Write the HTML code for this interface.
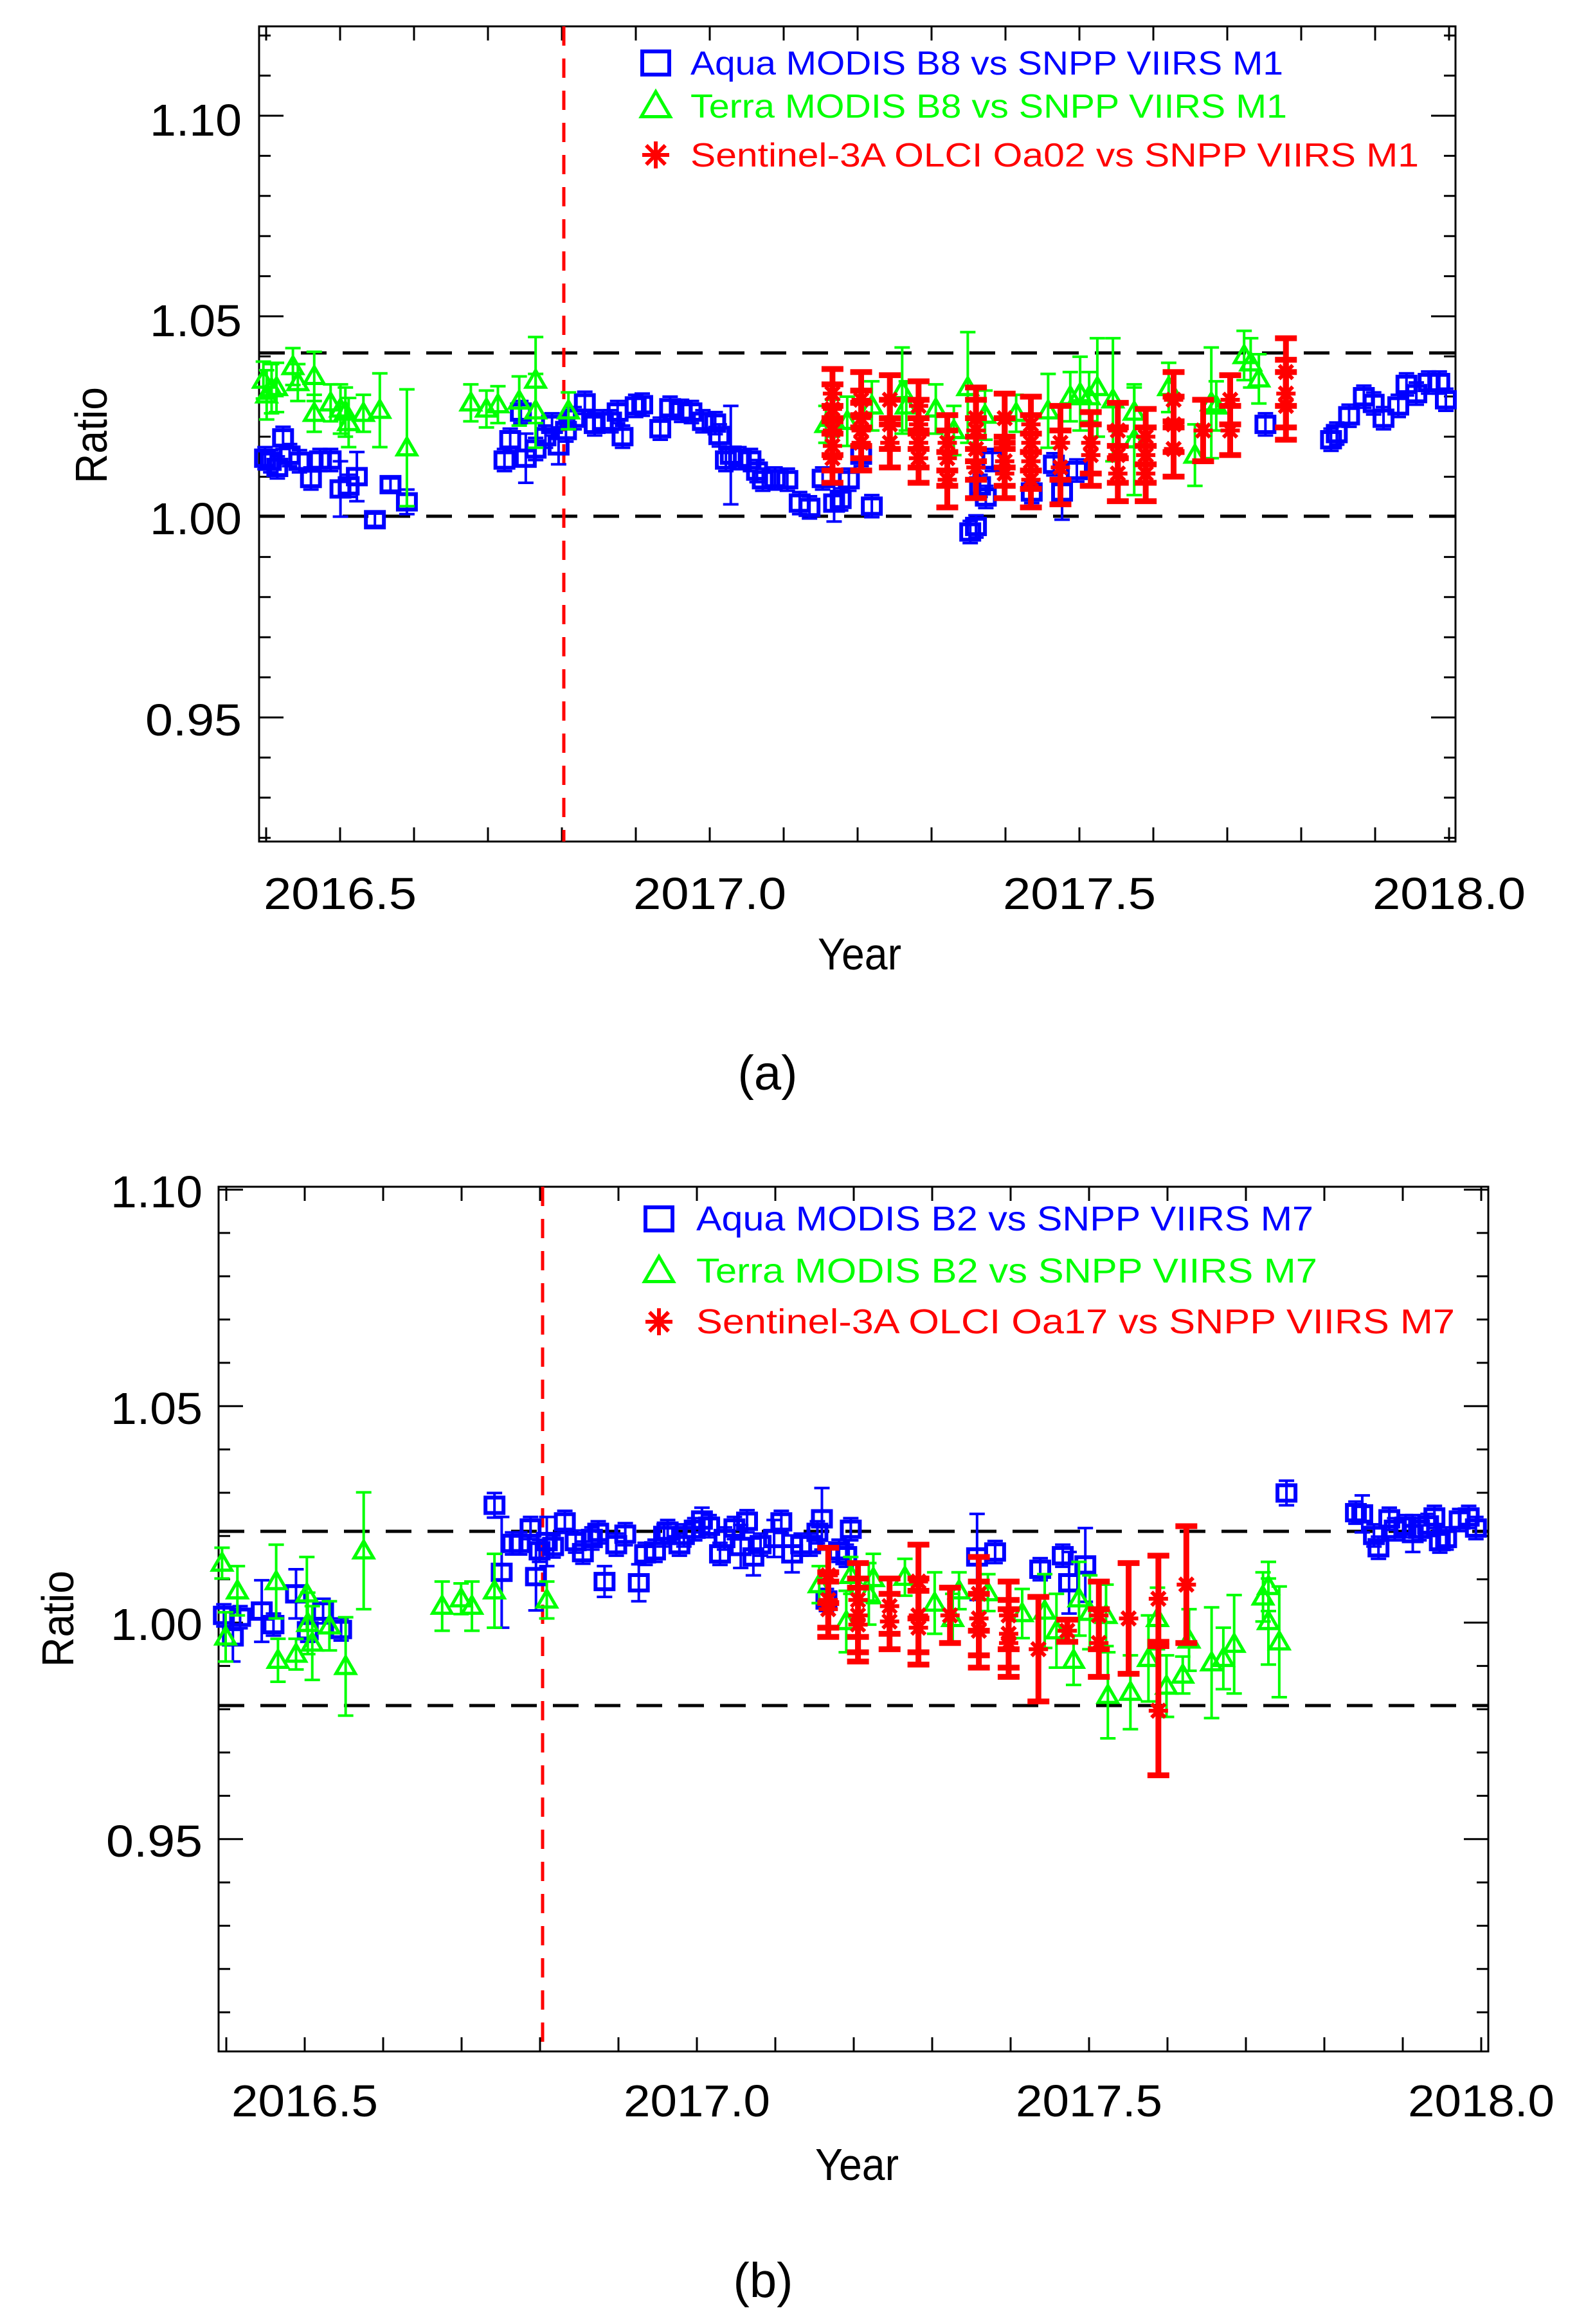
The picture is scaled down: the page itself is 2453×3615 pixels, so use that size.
<!DOCTYPE html>
<html><head><meta charset="utf-8"><style>
html,body{margin:0;padding:0;background:#fff;}
svg{display:block;}
text{font-family:"Liberation Sans",sans-serif;}
</style></head><body>
<svg id="s" xmlns="http://www.w3.org/2000/svg" width="2453" height="3615" viewBox="0 0 2453 3615">
<rect width="2453" height="3615" fill="#fff"/>
<g id="p1"></g><g id="p2"></g>
<g font-size="70" fill="#000" text-anchor="end">
<text x="376" y="211" textLength="143" lengthAdjust="spacingAndGlyphs">1.10</text>
<text x="376" y="523" textLength="143" lengthAdjust="spacingAndGlyphs">1.05</text>
<text x="376" y="831" textLength="143" lengthAdjust="spacingAndGlyphs">1.00</text>
<text x="376" y="1144" textLength="150" lengthAdjust="spacingAndGlyphs">0.95</text>
</g>
<g font-size="70" fill="#000" text-anchor="middle">
<text x="529" y="1414" textLength="238" lengthAdjust="spacingAndGlyphs">2016.5</text>
<text x="1104" y="1414" textLength="238" lengthAdjust="spacingAndGlyphs">2017.0</text>
<text x="1679" y="1414" textLength="238" lengthAdjust="spacingAndGlyphs">2017.5</text>
<text x="2254" y="1414" textLength="238" lengthAdjust="spacingAndGlyphs">2018.0</text>
<text x="1337" y="1508" textLength="130" lengthAdjust="spacingAndGlyphs">Year</text>
<text transform="translate(166,677) rotate(-90)" textLength="150" lengthAdjust="spacingAndGlyphs">Ratio</text>
<text x="1194" y="1695" font-family="Liberation Serif,serif" font-size="76">(a)</text>
</g>
<g font-size="52">
<text x="1074" y="116" fill="#0000ff" textLength="922" lengthAdjust="spacingAndGlyphs">Aqua MODIS B8 vs SNPP VIIRS M1</text>
<text x="1074" y="183" fill="#00ff00" textLength="928" lengthAdjust="spacingAndGlyphs">Terra MODIS B8 vs SNPP VIIRS M1</text>
<text x="1074" y="259" fill="#ff0000" textLength="1133" lengthAdjust="spacingAndGlyphs">Sentinel-3A OLCI Oa02 vs SNPP VIIRS M1</text>
</g>
<g font-size="70" fill="#000" text-anchor="end">
<text x="315" y="1878" textLength="143" lengthAdjust="spacingAndGlyphs">1.10</text>
<text x="315" y="2215" textLength="143" lengthAdjust="spacingAndGlyphs">1.05</text>
<text x="315" y="2551" textLength="143" lengthAdjust="spacingAndGlyphs">1.00</text>
<text x="315" y="2888" textLength="150" lengthAdjust="spacingAndGlyphs">0.95</text>
</g>
<g font-size="70" fill="#000" text-anchor="middle">
<text x="474" y="3292" textLength="228" lengthAdjust="spacingAndGlyphs">2016.5</text>
<text x="1084" y="3292" textLength="228" lengthAdjust="spacingAndGlyphs">2017.0</text>
<text x="1694" y="3292" textLength="228" lengthAdjust="spacingAndGlyphs">2017.5</text>
<text x="2304" y="3292" textLength="228" lengthAdjust="spacingAndGlyphs">2018.0</text>
<text x="1333" y="3391" textLength="130" lengthAdjust="spacingAndGlyphs">Year</text>
<text transform="translate(114,2518) rotate(-90)" textLength="150" lengthAdjust="spacingAndGlyphs">Ratio</text>
<text x="1187" y="3573" font-family="Liberation Serif,serif" font-size="76">(b)</text>
</g>
<g font-size="54">
<text x="1083" y="1914" fill="#0000ff" textLength="960" lengthAdjust="spacingAndGlyphs">Aqua MODIS B2 vs SNPP VIIRS M7</text>
<text x="1083" y="1995" fill="#00ff00" textLength="966" lengthAdjust="spacingAndGlyphs">Terra MODIS B2 vs SNPP VIIRS M7</text>
<text x="1083" y="2074" fill="#ff0000" textLength="1180" lengthAdjust="spacingAndGlyphs">Sentinel-3A OLCI Oa17 vs SNPP VIIRS M7</text>
</g>
</svg>
<script>
var NS="http://www.w3.org/2000/svg";
function el(g,t,a){var e=document.createElementNS(NS,t);for(var k in a)e.setAttribute(k,a[k]);g.appendChild(e);return e;}
function line(g,x1,y1,x2,y2,c,w,d){var a={x1:x1,y1:y1,x2:x2,y2:y2,stroke:c,"stroke-width":w};if(d)a["stroke-dasharray"]=d;el(g,"line",a);}
function sq(g,x,y,c,s){s=s||1;el(g,"rect",{x:x-14*s,y:y-12*s,width:28*s,height:24*s,fill:"none",stroke:c,"stroke-width":6});}
function tri(g,x,y,c,s){s=s||1;el(g,"polygon",{points:(x-15*s)+","+(y+11*s)+" "+(x+15*s)+","+(y+11*s)+" "+x+","+(y-15*s),fill:"none",stroke:c,"stroke-width":5});}
function star(g,x,y,c,s){s=s||1;for(var i=0;i<4;i++){var a=i*Math.PI/4;line(g,x-15*s*Math.cos(a),y-15*s*Math.sin(a),x+15*s*Math.cos(a),y+15*s*Math.sin(a),c,6);}}
function err(g,x,y,e,c,w,cw){line(g,x,y-e,x,y+e,c,w);line(g,x-cw,y-e,x+cw,y-e,c,w);line(g,x-cw,y+e,x+cw,y+e,c,w);}
function axes(g,L,R,T,B,yv,yStep,yMin,yMax,x05,pxYear){
 el(g,"rect",{x:L,y:T,width:R-L,height:B-T,fill:"none",stroke:"#000","stroke-width":3});
 for(var v=Math.ceil(yMin*100);v<=Math.floor(yMax*100);v++){var y=yv(v/100);var maj=(v%5==0);var l=maj?38:18;
  line(g,L,y,L+l,y,"#000",3);line(g,R,y,R-l,y,"#000",3);}
 for(var k=-1;k<=16;k++){var x=x05+k*pxYear/10;if(x<L||x>R)continue;line(g,x,B,x,B-22,"#000",3);line(g,x,T,x,T+22,"#000",3);}
}
(function(){
var g=document.getElementById("p1");
var L=403,R=2264,T=41,B=1309;
function yv(r){return 804-(r-1.0)*6240;}
axes(g,L,R,T,B,yv,0.01,0.919,1.123,529,1150);
line(g,L,549,R,549,"#000",5,"40,25");line(g,L,803,R,803,"#000",5,"40,25");
line(g,877,T,877,B,"#ff0000",5,"30,20");
function X(z){return 300+z/0.784;} function Y(z){return z/1.0453;}
var B1=[[88,745],[95,750],[103,760],[110,712],[118,740],[130,750],[144,778],[155,748],[168,748],[180,795,45],[190,790],[200,775,40],[222,845,10],[241,788,10],[261,816,20],[380,748],[387,715],[400,670],[406,745,40],[418,730],[430,710],[438,690],[446,725,30],[455,700],[465,680],[478,655],[490,690],[500,685],[510,685],[518,670],[524,710],[540,660],[548,658],[570,697],[582,663],[596,668],[608,670],[622,685],[637,688],[642,708],[650,748],[656,740,80],[666,745],[680,748],[688,766],[695,780],[710,778],[725,780],[740,818],[752,825],[768,778],[782,818,30],[790,812],[800,780],[815,740],[828,823],[948,865],[955,856],[960,790],[967,808],[975,748],[1023,800],[1050,755],[1060,800,45],[1078,765],[1308,690],[1388,715],[1395,705],[1410,676],[1428,645],[1440,656],[1452,680],[1470,660],[1480,625],[1492,640],[1507,622],[1520,622],[1528,650]];
var G1=[[86,618,30],[90,642,40],[96,632,40],[102,630,40],[122,596,30],[128,622,30],[148,612,40],[148,672,30],[168,655,30],[180,665,40],[186,670,40],[190,687,40],[208,672,30],[228,667,60],[261,728,95],[339,655,30],[358,665,30],[372,658,30],[398,652,40],[418,618,70],[418,668,60],[458,668,30],[772,690,30],[780,680,30],[798,685,40],[828,660,40],[865,635,70],[870,660,40],[906,665,40],[928,700,40],[945,630,90],[966,675,40],[1004,672,30],[1043,668,60],[1070,645,40],[1082,640,60],[1093,645,40],[1103,630,80],[1122,650,100],[1148,715,90],[1148,670,40],[1190,630,40],[1222,740,50],[1242,655,90],[1248,660,40],[1282,578,40],[1290,590,40],[1300,616,40]];
var R1=[[780,[640,665,700,725,745],40],[815,[650,680,700,720],45],[850,[650,690,720],40],[885,[660,690,720,745],40],[920,[720,745,780],45],[955,[680,700,730,760],50],[990,[680,720,750,770],40],[1022,[690,720,750,780],45],[1058,[720,760],60],[1095,[720,740],50],[1128,[700,740,770],45],[1162,[710,740,770],45],[1196,[650,690,730],45],[1232,[700],50],[1265,[650,700],40],[1333,[605,640,660],55]];
B1.forEach(function(p){var x=X(p[0]),y=Y(p[1]);err(g,x,y,(p[2]||18)/1.0453,"#0000ff",4,12);sq(g,x,y,"#0000ff");});
G1.forEach(function(p){var x=X(p[0]),y=Y(p[1]);err(g,x,y,p[2]/1.0453,"#00ff00",4,12);tri(g,x,y,"#00ff00");});
R1.forEach(function(c){var x=X(c[0]);c[1].forEach(function(yz){var y=Y(yz);err(g,x,y,c[2]/1.0453,"#ff0000",9,17);star(g,x,y,"#ff0000");});});
sq(g,1020,98,"#0000ff",1.5);tri(g,1020,165,"#00ff00",1.5);star(g,1020,241,"#ff0000",1.4);
})();
(function(){
var g=document.getElementById("p2");
var L=340,R=2315,T=1846,B=3191;
function yv(r){return 2524-(r-1.0)*6735;}
axes(g,L,R,T,B,yv,0.01,0.902,1.1007,474,1220);
line(g,L,2382,R,2382,"#000",5,"40,25");line(g,L,2653,R,2653,"#000",5,"40,25");
line(g,844,T,844,B,"#ff0000",5,"30,20");
function X(z){return 250+z/0.7127;} function Y(z){return 1800+z/1.0453;}
var B2=[[70,745],[80,780,40],[88,748],[112,738,50],[125,760],[150,710,40],[163,770],[180,738,20],[200,768],[370,566,20],[378,675,90],[390,628],[398,628],[410,603],[416,682,55],[420,640],[428,625,40],[435,633],[448,593],[460,625],[468,643],[478,620],[485,610],[492,690,25],[505,630],[515,613],[530,692,30],[537,645],[548,640],[558,615],[562,608],[575,630],[580,615],[592,605],[600,590,20],[608,600],[620,645],[625,620],[636,603],[643,633,35],[650,592],[657,650,30],[665,630],[680,620,30],[688,593],[700,645,30],[710,630],[720,630],[728,610],[733,588,50],[738,720],[752,640],[760,648],[765,605],[905,650,70],[925,642],[975,670],[1000,648],[1007,692,50],[1025,663,60],[1248,546,20],[1325,578],[1332,580,30],[1345,615],[1350,635],[1362,588],[1368,605],[1380,600],[1388,612,30],[1395,605],[1405,598],[1412,585],[1418,625],[1425,620],[1440,590],[1450,585],[1458,603]];
var G2=[[68,660,25],[72,780,40],[85,705,40],[128,690,60],[130,818,35],[150,808,25],[162,710,60],[163,758,50],[168,790,60],[187,762,40],[205,828,80],[225,640,95],[312,730,40],[333,718,25],[345,730,40],[370,705,60],[428,720,30],[730,695,30],[760,755,50],[765,680,30],[785,710,50],[790,685,40],[825,683,30],[858,725,50],[878,750,40],[885,705,30],[917,708,30],[955,742,40],[980,738,60],[993,770,60],[1012,818,40],[1018,718,60],[1030,740,60],[1050,875,70],[1048,745,50],[1075,870,60],[1095,815,70],[1105,750,50],[1115,860,50],[1133,842,30],[1140,785,50],[1165,822,90],[1178,815,50],[1190,792,80],[1222,715,40],[1228,698,40],[1228,755,70],[1240,788,90]];
var R2=[[740,[680,720,735],45],[773,[720,745,760],60],[808,[730,755],45],[840,[690,745,765],60],[875,[745],45],[907,[710,750,770],60],[940,[745,775,790],55],[973,[800],85],[1005,[770],18],[1040,[745,790],55],[1073,[750],90],[1106,[718],70],[1106,[900],105],[1137,[695],95]];
B2.forEach(function(p){var x=X(p[0]),y=Y(p[1]);err(g,x,y,(p[2]||18)/1.0453,"#0000ff",4,12);sq(g,x,y,"#0000ff");});
G2.forEach(function(p){var x=X(p[0]),y=Y(p[1]);err(g,x,y,p[2]/1.0453,"#00ff00",4,12);tri(g,x,y,"#00ff00");});
R2.forEach(function(c){var x=X(c[0]);c[1].forEach(function(yz){var y=Y(yz);err(g,x,y,c[2]/1.0453,"#ff0000",9,17);star(g,x,y,"#ff0000");});});
sq(g,1025,1896,"#0000ff",1.5);tri(g,1025,1977,"#00ff00",1.5);star(g,1025,2056,"#ff0000",1.4);
})();
</script>
</body></html>
